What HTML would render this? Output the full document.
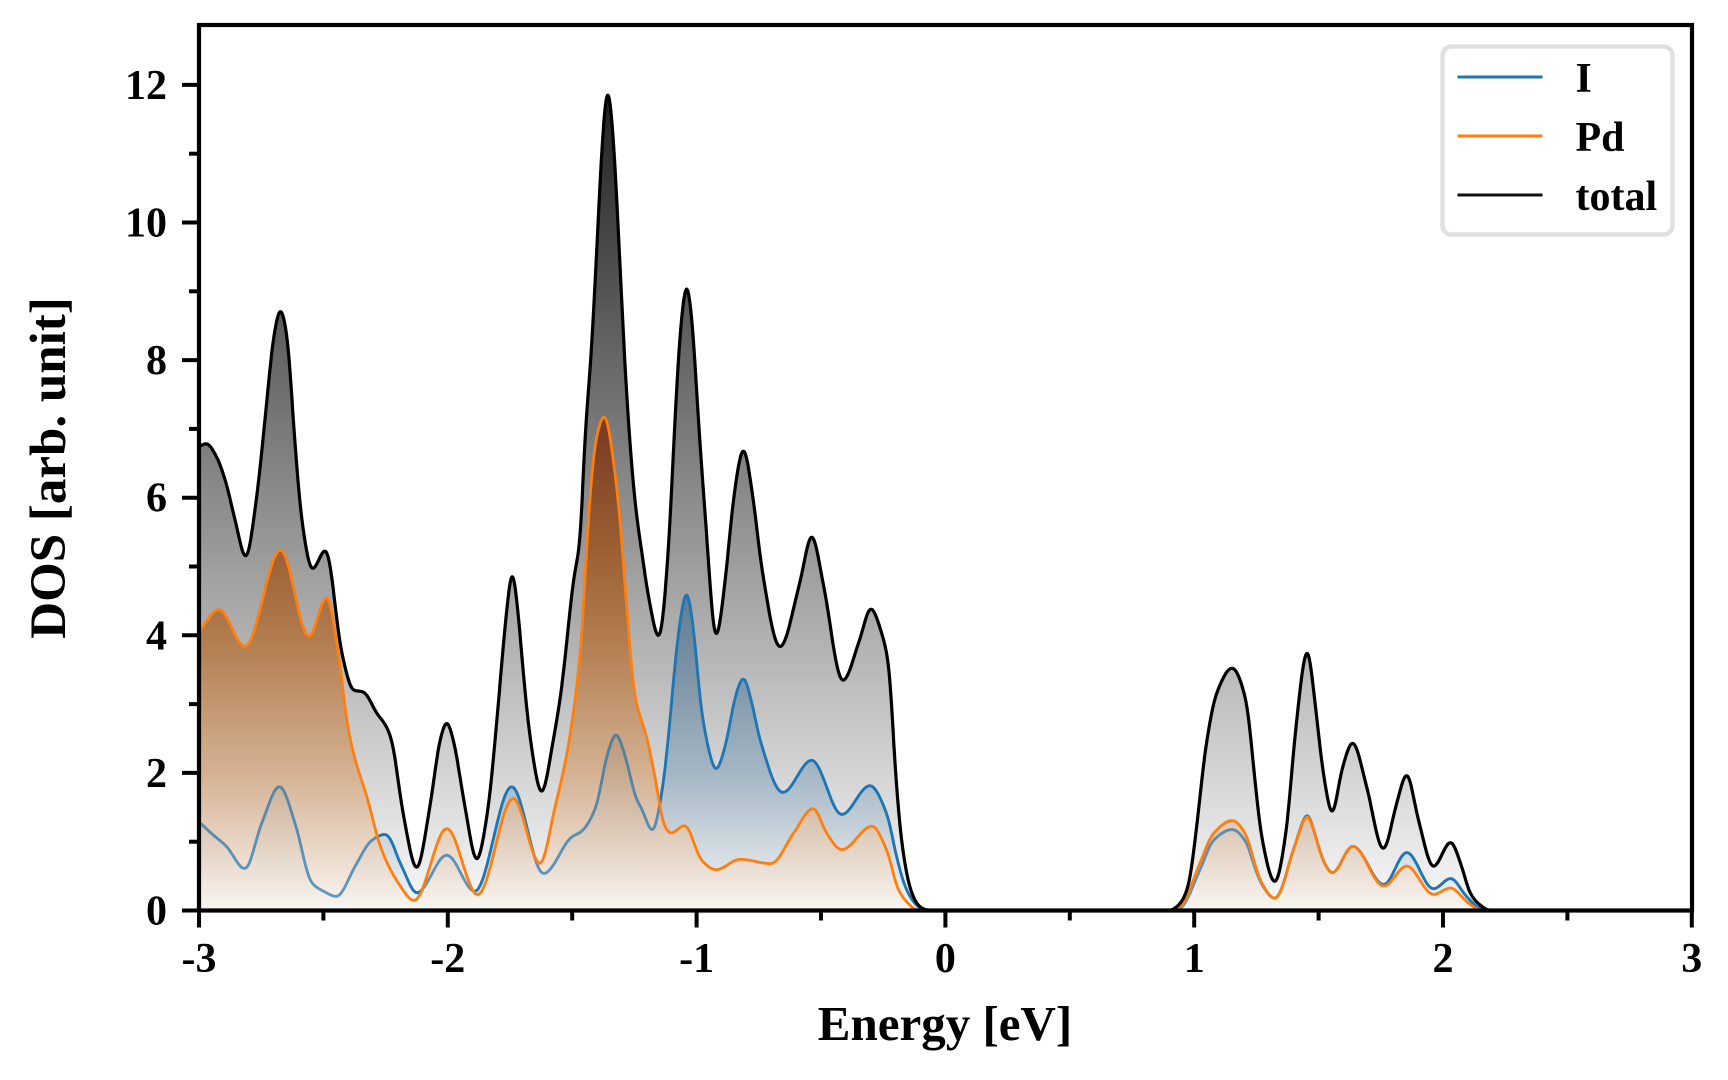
<!DOCTYPE html>
<html>
<head>
<meta charset="utf-8">
<style>
  html,body{margin:0;padding:0;background:#fff;overflow:hidden;}
  svg{display:block;}
  text{font-family:"Liberation Serif","Times New Roman",serif;font-weight:bold;fill:#000;}
</style>
</head>
<body>
<svg id="chart" xmlns="http://www.w3.org/2000/svg" width="1728" height="1080" viewBox="0 0 1728 1080">
  <defs>
    <clipPath id="ax"><rect x="199" y="25" width="1493" height="885.5"/></clipPath>
    <linearGradient id="gT" gradientUnits="userSpaceOnUse" x1="0" y1="910.5" x2="0" y2="25">
      <stop offset="0" stop-color="rgb(249,249,249)"/>
      <stop offset="1" stop-color="rgb(14,14,14)"/>
    </linearGradient>
    <linearGradient id="gI" gradientUnits="userSpaceOnUse" x1="0" y1="910.5" x2="0" y2="25">
      <stop offset="0" stop-color="rgb(244,247,249)" stop-opacity="0.8"/>
      <stop offset="0.0777" stop-color="rgb(199,211,220)" stop-opacity="0.8"/>
      <stop offset="0.1554" stop-color="rgb(153,175,192)" stop-opacity="0.8"/>
      <stop offset="0.2642" stop-color="rgb(110,139,161)" stop-opacity="0.8"/>
      <stop offset="0.3574" stop-color="rgb(77,111,141)" stop-opacity="0.8"/>
      <stop offset="1" stop-color="rgb(60,95,128)" stop-opacity="0.8"/>
    </linearGradient>
    <linearGradient id="gP" gradientUnits="userSpaceOnUse" x1="0" y1="910.5" x2="0" y2="25">
      <stop offset="0" stop-color="rgb(251,245,239)" stop-opacity="0.72"/>
      <stop offset="0.0777" stop-color="rgb(233,204,180)" stop-opacity="0.72"/>
      <stop offset="0.1554" stop-color="rgb(212,164,121)" stop-opacity="0.72"/>
      <stop offset="0.3108" stop-color="rgb(176,102,39)" stop-opacity="0.72"/>
      <stop offset="0.404" stop-color="rgb(157,74,13)" stop-opacity="0.72"/>
      <stop offset="0.5517" stop-color="rgb(121,35,0)" stop-opacity="0.72"/>
      <stop offset="1" stop-color="rgb(100,25,0)" stop-opacity="0.72"/>
    </linearGradient>
  </defs>

  <rect x="0" y="0" width="1728" height="1080" fill="#fff"/>

  <g clip-path="url(#ax)">
    <path id="fillT" fill="url(#gT)" stroke="none" d=""/>
    <path id="fillI" fill="url(#gI)" stroke="none" d=""/>
    <path id="lineI" fill="none" stroke="#1f77b4" stroke-width="2.8" stroke-linejoin="round" d=""/>
    <path id="fillP" fill="url(#gP)" stroke="none" d=""/>
    <path id="lineI2" fill="none" stroke="#1f77b4" stroke-opacity="0.6" stroke-width="2.8" stroke-linejoin="round" d=""/>
    <path id="lineP" fill="none" stroke="#ff7f0e" stroke-width="2.8" stroke-linejoin="round" d=""/>
    <path id="lineT" fill="none" stroke="#000" stroke-width="3.2" stroke-linejoin="round" d=""/>
  </g>

  <!-- ticks -->
  <g id="ticks" stroke="#000" stroke-width="4"></g>

  <!-- spines -->
  <rect x="199" y="25" width="1493" height="885.5" fill="none" stroke="#000" stroke-width="4.2"/>

  <!-- y tick labels -->
  <g font-size="42" text-anchor="end">
    <text x="167" y="924.5">0</text>
    <text x="167" y="786.9">2</text>
    <text x="167" y="649.3">4</text>
    <text x="167" y="511.7">6</text>
    <text x="167" y="374.1">8</text>
    <text x="167" y="236.5">10</text>
    <text x="167" y="98.9">12</text>
  </g>
  <!-- x tick labels -->
  <g font-size="42" text-anchor="middle">
    <text x="199" y="972">-3</text>
    <text x="447.8" y="972">-2</text>
    <text x="696.6" y="972">-1</text>
    <text x="945.4" y="972">0</text>
    <text x="1194.2" y="972">1</text>
    <text x="1443" y="972">2</text>
    <text x="1691.8" y="972">3</text>
  </g>

  <!-- axis labels -->
  <text x="945" y="1040" font-size="49" text-anchor="middle">Energy [eV]</text>
  <text transform="translate(65,468) rotate(-90)" font-size="51" text-anchor="middle">DOS [arb. unit]</text>

  <!-- legend -->
  <rect x="1442.5" y="46.5" width="230" height="188" rx="9" ry="9" fill="#fff" fill-opacity="0.85" stroke="#e0e0e0" stroke-width="4.5"/>
  <line x1="1457.5" y1="77" x2="1542.5" y2="77" stroke="#1f77b4" stroke-width="3"/>
  <line x1="1457.5" y1="136" x2="1542.5" y2="136" stroke="#ff7f0e" stroke-width="3"/>
  <line x1="1457.5" y1="195" x2="1542.5" y2="195" stroke="#111" stroke-width="3"/>
  <text x="1575.5" y="92" font-size="42">I</text>
  <text x="1575.5" y="151" font-size="42">Pd</text>
  <text x="1575.5" y="210" font-size="42">total</text>
</svg>

<script>
(function(){
  var X = function(e){ return 199 + (e + 3) * 248.8; };
  var Y = function(d){ return 910.5 - d * 68.8; };

  var T = [[-3.0,6.74],[-2.97,6.79],[-2.93,6.6],[-2.895,6.26],[-2.855,5.68],[-2.812,5.12],[-2.768,6.01],[-2.735,7.13],[-2.70,8.33],[-2.673,8.75],[-2.645,8.33],[-2.621,7.13],[-2.587,5.68],[-2.545,4.95],[-2.491,5.25],[-2.426,3.74],[-2.38,3.2],[-2.34,3.18],[-2.286,2.87],[-2.246,2.67],[-2.226,2.48],[-2.179,1.4],[-2.125,0.6],[-2.072,1.51],[-2.031,2.48],[-2.004,2.75],[-1.978,2.48],[-1.931,1.51],[-1.884,0.72],[-1.837,1.51],[-1.81,2.48],[-1.79,3.3],[-1.765,4.3],[-1.741,4.95],[-1.717,4.3],[-1.69,3.2],[-1.668,2.48],[-1.623,1.7],[-1.576,2.48],[-1.542,3.25],[-1.489,4.95],[-1.469,5.3],[-1.449,6.89],[-1.425,8.0],[-1.40,9.7],[-1.378,11.25],[-1.357,11.98],[-1.335,11.25],[-1.315,9.9],[-1.292,8.2],[-1.272,7.0],[-1.245,5.85],[-1.22,5.2],[-1.195,4.6],[-1.151,3.95],[-1.114,5.19],[-1.087,7.13],[-1.065,8.45],[-1.04,9.12],[-1.015,8.45],[-0.998,7.42],[-0.96,5.48],[-0.923,3.95],[-0.879,5.0],[-0.852,5.97],[-0.812,6.72],[-0.772,5.97],[-0.739,5.0],[-0.665,3.82],[-0.586,4.75],[-0.537,5.46],[-0.491,4.75],[-0.413,3.33],[-0.345,3.93],[-0.3,4.4],[-0.256,4.03],[-0.225,3.5],[-0.209,2.5],[-0.192,1.6],[-0.176,1.0],[-0.14,0.3],[-0.11,0.08],[-0.08,0.01],[-0.05,0],[0.9,0],[0.943,0.1],[0.976,0.35],[1.01,1.22],[1.043,2.28],[1.09,3.16],[1.153,3.53],[1.211,3.01],[1.24,2.04],[1.271,1.07],[1.325,0.4],[1.372,1.22],[1.405,2.53],[1.455,3.8],[1.486,3.01],[1.519,1.99],[1.555,1.4],[1.593,2.04],[1.637,2.45],[1.693,1.8],[1.76,0.88],[1.814,1.56],[1.854,1.99],[1.901,1.32],[1.961,0.63],[2.031,1.0],[2.075,0.64],[2.109,0.25],[2.149,0.08],[2.189,0],[3.0,0]];

  var I = [[-3.0,1.29],[-2.95,1.12],[-2.889,0.93],[-2.815,0.6],[-2.748,1.27],[-2.676,1.81],[-2.614,1.27],[-2.547,0.4],[-2.494,0.27],[-2.447,0.2],[-2.373,0.64],[-2.306,1.02],[-2.25,1.11],[-2.185,0.64],[-2.125,0.25],[-2.004,0.81],[-1.891,0.27],[-1.743,1.81],[-1.616,0.53],[-1.502,1.07],[-1.462,1.15],[-1.405,1.5],[-1.36,2.25],[-1.324,2.57],[-1.29,2.28],[-1.241,1.61],[-1.221,1.48],[-1.176,1.15],[-1.145,1.6],[-1.114,2.48],[-1.1,3.06],[-1.07,4.12],[-1.04,4.64],[-1.01,4.02],[-0.986,3.06],[-0.96,2.48],[-0.922,2.04],[-0.879,2.48],[-0.845,3.1],[-0.812,3.39],[-0.78,3.05],[-0.745,2.48],[-0.654,1.71],[-0.537,2.19],[-0.417,1.39],[-0.303,1.82],[-0.236,1.41],[-0.196,0.78],[-0.162,0.35],[-0.122,0.1],[-0.08,0],[0.9,0],[0.943,0.03],[1.023,0.59],[1.077,1.02],[1.153,1.18],[1.211,0.98],[1.24,0.66],[1.271,0.38],[1.325,0.17],[1.405,0.95],[1.455,1.4],[1.486,1.1],[1.519,0.72],[1.555,0.54],[1.637,0.94],[1.762,0.37],[1.854,0.85],[1.961,0.31],[2.031,0.47],[2.095,0.2],[2.149,0.03],[2.18,0],[3.0,0]];

  var P = [[-3.0,4.05],[-2.92,4.38],[-2.815,3.83],[-2.672,5.25],[-2.558,3.97],[-2.487,4.57],[-2.44,3.74],[-2.4,2.62],[-2.36,2.04],[-2.333,1.75],[-2.266,0.88],[-2.199,0.4],[-2.135,0.14],[-2.004,1.2],[-1.88,0.22],[-1.737,1.64],[-1.629,0.67],[-1.569,1.51],[-1.516,2.38],[-1.462,3.98],[-1.435,5.68],[-1.408,6.78],[-1.371,7.2],[-1.321,6.15],[-1.277,4.25],[-1.25,3.13],[-1.225,2.8],[-1.201,2.53],[-1.181,2.19],[-1.16,1.8],[-1.134,1.27],[-1.104,1.12],[-1.047,1.24],[-0.98,0.73],[-0.922,0.59],[-0.826,0.745],[-0.7,0.68],[-0.611,1.12],[-0.531,1.49],[-0.477,1.12],[-0.417,0.88],[-0.294,1.23],[-0.236,0.88],[-0.189,0.3],[-0.149,0.1],[-0.11,0],[0.9,0],[0.943,0.05],[1.023,0.69],[1.077,1.12],[1.153,1.31],[1.211,1.08],[1.24,0.72],[1.271,0.4],[1.325,0.17],[1.405,0.95],[1.455,1.38],[1.486,1.1],[1.519,0.72],[1.555,0.54],[1.637,0.94],[1.762,0.35],[1.854,0.65],[1.961,0.23],[2.031,0.33],[2.095,0.13],[2.14,0.02],[2.17,0],[3.0,0]];

  function pchip(pts){
    var n = pts.length, xs = [], ys = [], h = [], m = [], t = [], i;
    for(i=0;i<n;i++){ xs.push(pts[i][0]); ys.push(pts[i][1]); t.push(0); }
    for(i=0;i<n-1;i++){ h.push(xs[i+1]-xs[i]); m.push((ys[i+1]-ys[i])/h[i]); }
    t[0] = m[0]; t[n-1] = m[n-2];
    for(i=1;i<n-1;i++){
      if(m[i-1]*m[i] <= 0){ t[i] = 0; }
      else {
        var w1 = 2*h[i] + h[i-1], w2 = h[i] + 2*h[i-1];
        t[i] = (w1 + w2) / (w1/m[i-1] + w2/m[i]);
      }
    }
    return function(x){
      if(x <= xs[0]) return ys[0];
      if(x >= xs[n-1]) return ys[n-1];
      var lo = 0, hi = n-1;
      while(hi - lo > 1){ var mid = (lo+hi)>>1; if(xs[mid] <= x) lo = mid; else hi = mid; }
      var hh = h[lo], s = (x - xs[lo])/hh, s2 = s*s, s3 = s2*s;
      return (2*s3-3*s2+1)*ys[lo] + (s3-2*s2+s)*hh*t[lo] + (-2*s3+3*s2)*ys[lo+1] + (s3-s2)*hh*t[lo+1];
    };
  }

  var STEP = 0.002, N = 3001, SIG = 0.008;
  var R = Math.ceil(4*SIG/STEP), W = [], wsum = 0, j;
  for(j=-R;j<=R;j++){ var w = Math.exp(-0.5*Math.pow(j*STEP/SIG,2)); W.push(w); wsum += w; }

  function curve(pts){
    var f = pchip(pts), raw = [], k, out = [];
    for(k=0;k<N;k++){ raw.push(f(-3 + k*STEP)); }
    for(k=0;k<N;k++){
      var acc = 0;
      for(j=-R;j<=R;j++){
        var idx = k + j; if(idx < 0) idx = 0; if(idx > N-1) idx = N-1;
        acc += W[j+R]*raw[idx];
      }
      var y = acc/wsum; if(y < 0) y = 0;
      out.push([X(-3 + k*STEP), Y(y)]);
    }
    return out;
  }

  function linePath(p){
    var s = 'M' + p[0][0].toFixed(1) + ',' + p[0][1].toFixed(1);
    for(var i=1;i<p.length;i++){ s += 'L' + p[i][0].toFixed(1) + ',' + p[i][1].toFixed(1); }
    return s;
  }
  function fillPath(p){
    return linePath(p) + 'L' + p[p.length-1][0].toFixed(1) + ',' + Y(0).toFixed(1) +
           'L' + p[0][0].toFixed(1) + ',' + Y(0).toFixed(1) + 'Z';
  }

  var pT = curve(T), pI = curve(I), pP = curve(P);
  document.getElementById('fillT').setAttribute('d', fillPath(pT));
  document.getElementById('lineT').setAttribute('d', linePath(pT));
  document.getElementById('fillI').setAttribute('d', fillPath(pI));
  document.getElementById('lineI').setAttribute('d', linePath(pI));
  document.getElementById('lineI2').setAttribute('d', linePath(pI));
  document.getElementById('fillP').setAttribute('d', fillPath(pP));
  document.getElementById('lineP').setAttribute('d', linePath(pP));

  // ticks
  var g = document.getElementById('ticks'), NS = 'http://www.w3.org/2000/svg';
  function ln(x1,y1,x2,y2){
    var l = document.createElementNS(NS,'line');
    l.setAttribute('x1',x1); l.setAttribute('y1',y1);
    l.setAttribute('x2',x2); l.setAttribute('y2',y2);
    g.appendChild(l);
  }
  var e, d;
  for(e=-3; e<=3.001; e+=1){ ln(X(e), 910.5, X(e), 927.5); }
  for(e=-2.5; e<=2.501; e+=1){ ln(X(e), 910.5, X(e), 920.5); }
  for(d=0; d<=12.001; d+=2){ ln(199, Y(d), 182, Y(d)); }
  for(d=1; d<=11.001; d+=2){ ln(199, Y(d), 189, Y(d)); }
})();
</script>
</body>
</html>
